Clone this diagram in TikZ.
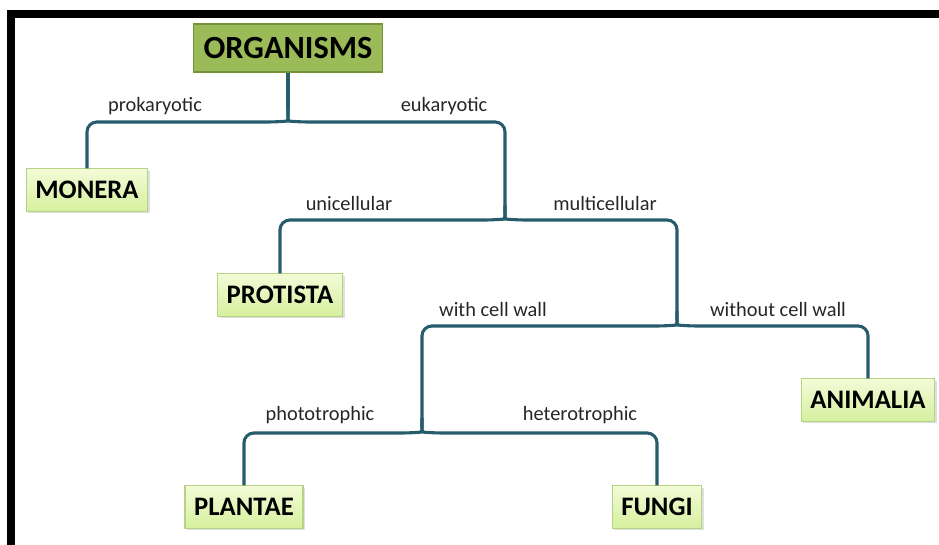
\documentclass[tikz,border=0pt]{standalone}
\usepackage{fontspec}
\setmainfont{Carlito}
\usetikzlibrary{positioning, calc, shadows}
\definecolor{linkteal}{RGB}{38, 92, 107}
\definecolor{rootgreen}{RGB}{155, 187, 89}
\definecolor{rootedge}{RGB}{118, 146, 60}
\definecolor{leaftop}{RGB}{243, 251, 215}
\definecolor{leafbot}{RGB}{214, 240, 158}
\definecolor{leafedge}{RGB}{182, 210, 132}
\tikzset{
    rootbox/.style={
        draw=rootedge, line width=1pt, fill=rootgreen, font=\fontsize{23}{26}\selectfont\bfseries,
        minimum height=34pt, minimum width=134pt
    },
    leafbox/.style={
        draw=leafedge, line width=0.8pt, top color=leaftop, bottom color=leafbot,
        font=\fontsize{19}{22}\selectfont\bfseries, minimum height=30pt, inner xsep=6.5pt,
        drop shadow={shadow xshift=1.5pt, shadow yshift=-1.5pt, opacity=0.25}
    },
    branch/.style={
        draw=linkteal, line width=2.2pt, rounded corners=7pt
    },
    lbl/.style={
        font=\fontsize{14.5}{17}\selectfont, text=black!85, inner sep=0pt
    }
}

\begin{document}
\begin{tikzpicture}[x=0.025cm, y=-0.025cm]
    \useasboundingbox (0,0) rectangle (939,545);

    % frame
    \fill[black] (7,10) rectangle (945,18);
    \fill[black] (7,10) rectangle (15,550);

    % --- nodes ---
    \node[rootbox] (organisms) at (288,48) {ORGANISMS};
    \node[leafbox] (monera)    at (87,190)  {MONERA};
    \node[leafbox] (protista)  at (280,295) {PROTISTA};
    \node[leafbox] (animalia)  at (868,400) {ANIMALIA};
    \node[leafbox] (plantae)   at (244,507) {PLANTAE};
    \node[leafbox] (fungi)     at (657,507) {FUNGI};

    % branch points
    \coordinate (orgtip)   at (288,107);
    \coordinate (eutip)    at (505,205);
    \coordinate (multitip) at (677,311);
    \coordinate (walltip)  at (422,418);

    % --- connectors ---
    \draw[branch] (organisms.south) -- (orgtip);
    \draw[branch] (orgtip) .. controls +(0,14) .. +(-11,15) -| (monera.north);
    \draw[branch] (orgtip) .. controls +(0,14) .. +(11,15) -| (eutip);
    \draw[branch] (eutip) .. controls +(0,14) .. +(-11,15) -| (protista.north);
    \draw[branch] (eutip) .. controls +(0,14) .. +(11,15) -| (multitip);
    \draw[branch] (multitip) .. controls +(0,14) .. +(-11,15) -| (walltip);
    \draw[branch] (multitip) .. controls +(0,14) .. +(11,15) -| (animalia.north);
    \draw[branch] (walltip) .. controls +(0,14) .. +(-11,15) -| (plantae.north);
    \draw[branch] (walltip) .. controls +(0,14) .. +(11,15) -| (fungi.north);

    % --- labels ---
    \node[lbl] (lprok)   at (155,106) {prokaryotic};
    \node[lbl] (leuk)    at (444,106) {eukaryotic};
    \node[lbl] (luni)    at (349,203) {unicellular};
    \node[lbl] (lmulti)  at (605,203) {multicellular};
    \node[lbl] (lwith)   at (493,309) {with cell wall};
    \node[lbl] (lwithout) at (778,309) {without cell wall};
    \node[lbl] (lphoto)  at (320,415) {phototrophic};
    \node[lbl] (lhetero) at (580,415) {heterotrophic};

\end{tikzpicture}
\end{document}
